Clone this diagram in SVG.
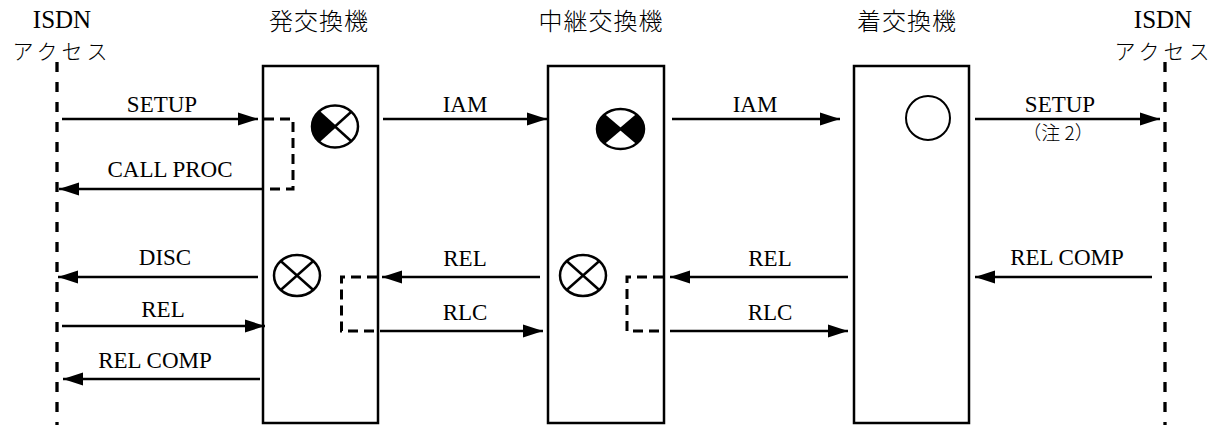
<svg xmlns="http://www.w3.org/2000/svg" width="1228" height="425" viewBox="0 0 1228 425">
<style>
.box{fill:#fff;stroke:#000;stroke-width:2.5}
.life{stroke:#000;stroke-width:3.3;stroke-dasharray:10 10;fill:none}
.msg{stroke:#000;stroke-width:2.6;fill:none}
.brk{stroke:#000;stroke-width:3;stroke-dasharray:10 6;fill:none}
.sym{fill:#fff;stroke:#000;stroke-width:2.5}
.x{stroke:#000;stroke-width:2.5}
.t{font-family:"Liberation Serif","Noto Sans CJK JP",serif;font-size:23px;fill:#000;text-anchor:middle}
.h{font-family:"Liberation Serif","Noto Sans CJK JP",serif;font-size:25px;fill:#000;text-anchor:middle}
.j{font-family:"Noto Sans CJK JP",sans-serif;font-size:24px;font-weight:300;fill:#000;text-anchor:middle}
.k{font-family:"Noto Sans CJK JP",sans-serif;font-size:21px;font-weight:300;fill:#000;text-anchor:middle}
.n{font-family:"Noto Sans CJK JP",sans-serif;font-size:19px;font-weight:300;fill:#000;text-anchor:middle}
</style>
<defs>
<marker id="ah" markerUnits="userSpaceOnUse" markerWidth="20" markerHeight="14" refX="20" refY="7" orient="auto">
<path d="M0,0.5 L20,7 L0,13.5 Z" fill="#000"/>
</marker>
</defs>
<rect width="1228" height="425" fill="#fff"/>

<g id="isdn-left">
<text class="h" x="62" y="28">ISDN</text>
<text class="k" x="62" y="59" letter-spacing="4">アクセス</text>
<line class="life" x1="57" y1="62" x2="57" y2="425"/>
</g>

<g id="isdn-right">
<text class="h" x="1163" y="28">ISDN</text>
<text class="k" x="1164" y="59" letter-spacing="4">アクセス</text>
<line class="life" x1="1165" y1="62" x2="1165" y2="425"/>
</g>

<g id="originating-exchange">
<text class="j" x="319" y="30" letter-spacing="1">発交換機</text>
<rect class="box" x="263" y="66" width="115" height="357"/>
<ellipse class="sym" cx="335" cy="126.5" rx="23" ry="21"/>
<path d="M335,126.5 L318.7,111.7 A23,21 0 0,0 318.7,141.3 Z" fill="#000"/>
<line class="x" x1="318.7" y1="111.7" x2="351.3" y2="141.3"/>
<line class="x" x1="351.3" y1="111.7" x2="318.7" y2="141.3"/>
<ellipse class="sym" cx="297" cy="275.5" rx="23" ry="20.5"/>
<line class="x" x1="280.7" y1="261" x2="313.3" y2="290"/>
<line class="x" x1="313.3" y1="261" x2="280.7" y2="290"/>
</g>

<g id="transit-exchange">
<text class="j" x="601" y="30" letter-spacing="1">中継交換機</text>
<rect class="box" x="548" y="66" width="116" height="357"/>
<ellipse class="sym" cx="620.5" cy="129" rx="23.5" ry="20"/>
<path d="M620.5,129 L603.9,114.9 A23.5,20 0 0,0 603.9,143.1 Z M620.5,129 L637.1,114.9 A23.5,20 0 0,1 637.1,143.1 Z" fill="#000"/>
<line class="x" x1="603.9" y1="114.9" x2="637.1" y2="143.1"/>
<line class="x" x1="637.1" y1="114.9" x2="603.9" y2="143.1"/>
<ellipse class="sym" cx="583" cy="275.5" rx="23" ry="20.5"/>
<line class="x" x1="566.7" y1="261" x2="599.3" y2="290"/>
<line class="x" x1="599.3" y1="261" x2="566.7" y2="290"/>
</g>

<g id="terminating-exchange">
<text class="j" x="907" y="30" letter-spacing="1">着交換機</text>
<rect class="box" x="854" y="66" width="115" height="357"/>
<circle cx="928" cy="118" r="22" fill="#fff" stroke="#000" stroke-width="2"/>
</g>

<g id="connectors">
<line class="msg" x1="62" y1="119" x2="258" y2="119" marker-end="url(#ah)"/>
<path class="brk" d="M264,119 H293 V189 H264"/>
<line class="msg" x1="263" y1="189" x2="59" y2="189" marker-end="url(#ah)"/>
<line class="msg" x1="383" y1="119" x2="547" y2="119" marker-end="url(#ah)"/>
<line class="msg" x1="672" y1="119" x2="840" y2="119" marker-end="url(#ah)"/>
<line class="msg" x1="975" y1="119" x2="1160" y2="119" marker-end="url(#ah)"/>
<line class="msg" x1="258" y1="277" x2="58" y2="277" marker-end="url(#ah)"/>
<line class="msg" x1="62" y1="326" x2="265" y2="326" marker-end="url(#ah)"/>
<line class="msg" x1="260" y1="379" x2="63" y2="379" marker-end="url(#ah)"/>
<path class="brk" d="M377,277 H341.5 V331 H377"/>
<line class="msg" x1="540" y1="277" x2="382" y2="277" marker-end="url(#ah)"/>
<line class="msg" x1="380" y1="331" x2="543" y2="331" marker-end="url(#ah)"/>
<path class="brk" d="M663,277 H627 V331 H663"/>
<line class="msg" x1="848" y1="277" x2="670" y2="277" marker-end="url(#ah)"/>
<line class="msg" x1="670" y1="331" x2="848" y2="331" marker-end="url(#ah)"/>
<line class="msg" x1="1152" y1="277" x2="975" y2="277" marker-end="url(#ah)"/>
</g>

<g id="labels">
<text class="t" x="162" y="112">SETUP</text>
<text class="t" x="170" y="177">CALL PROC</text>
<text class="t" x="465" y="112">IAM</text>
<text class="t" x="755" y="112">IAM</text>
<text class="t" x="1060" y="112">SETUP</text>
<text class="n" x="1058" y="140">（注 2）</text>
<text class="t" x="165" y="265">DISC</text>
<text class="t" x="163" y="317">REL</text>
<text class="t" x="155" y="368">REL COMP</text>
<text class="t" x="465" y="266">REL</text>
<text class="t" x="465" y="320">RLC</text>
<text class="t" x="770" y="266">REL</text>
<text class="t" x="770" y="320">RLC</text>
<text class="t" x="1067" y="265">REL COMP</text>
</g>
</svg>
